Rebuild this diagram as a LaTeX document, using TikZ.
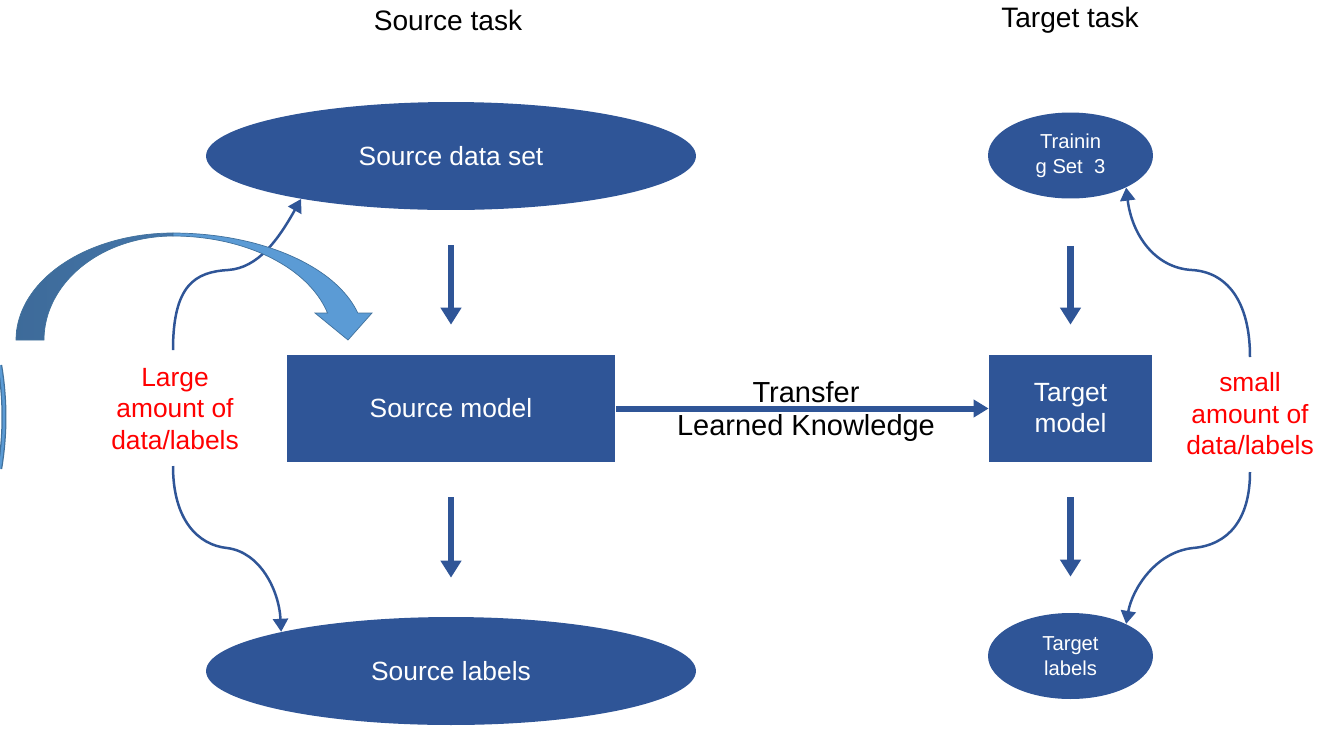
\documentclass[tikz,border=0pt]{standalone}
\usepackage{fontspec}
\setmainfont{Liberation Sans}
\usetikzlibrary{shapes.geometric,arrows.meta}
\definecolor{nodeblue}{RGB}{47,85,151}
\definecolor{bandlight}{RGB}{91,155,213}
\definecolor{banddark}{RGB}{68,118,170}
\definecolor{bandedge}{RGB}{65,113,156}
\definecolor{notered}{RGB}{255,0,0}
\begin{document}
\begin{tikzpicture}[x=0.02cm,y=-0.02cm,
  bigoval/.style={ellipse, fill=nodeblue, inner sep=0pt, minimum width=9.8cm, minimum height=2.16cm,
    text=white, font=\fontsize{15}{18}\selectfont},
  smalloval/.style={ellipse, fill=nodeblue, inner sep=0pt, minimum width=3.3cm, minimum height=1.72cm,
    text=white, align=center, font=\fontsize{11.5}{14.2}\selectfont},
  modelbox/.style={rectangle, fill=nodeblue, inner sep=0pt, minimum height=2.14cm,
    text=white, align=center, font=\fontsize{15}{17.6}\selectfont},
  heading/.style={font=\fontsize{16}{19}\selectfont},
  note/.style={text=notered, align=center, font=\fontsize{15}{17.9}\selectfont},
  flowarrow/.style={draw=nodeblue, line width=0.13cm, -{Triangle[width=0.4cm,length=0.34cm]}},
  transferarrow/.style={draw=nodeblue, line width=0.12cm, -{Triangle[width=0.34cm,length=0.3cm]}},
  curvearrow/.style={draw=nodeblue, line width=0.05cm, -{Triangle[width=0.3cm,length=0.26cm]}},
  transfertext/.style={font=\fontsize{16.5}{19}\selectfont}
]
\useasboundingbox (0,0) rectangle (1330,728);

% column headings
\node[heading] (srctask) at (448,20) {Source task};
\node[heading] (tgttask) at (1070,20) {Target task};

% source column
\node[bigoval] (sds) at (451,156) {Source data set};
\node[modelbox, minimum width=6.58cm] (sm) at (451,408.5) {Source model};
\node[bigoval] (sl) at (451,671) {Source labels};

% target column
\node[smalloval] (tr) at (1070.5,155.5) {Trainin\\g Set~~3};
\node[modelbox, minimum width=3.26cm] (tm) at (1070.5,408.5) {Target\\model};
\node[smalloval] (tl) at (1070.5,656) {Target\\labels};

% vertical flow
\draw[flowarrow, shorten <=0.7cm, shorten >=0.6cm] (sds) -- (sm);
\draw[flowarrow, shorten <=0.7cm, shorten >=0.78cm] (sm) -- (sl);
\draw[flowarrow, shorten <=0.94cm, shorten >=0.6cm] (tr) -- (tm);
\draw[flowarrow, shorten <=0.7cm, shorten >=0.72cm] (tm) -- (tl);

% knowledge transfer
\draw[transferarrow] (sm) -- (tm);
\node[transfertext] (trlabel) at (806,392) {Transfer};
\node[transfertext] (lklabel) at (806,428) {Learned Knowledge};

% side notes
\node[note] (bignote) at (175,409) {Large\\amount of\\data/labels};
\node[note] (smallnote) at (1250,414) {small\\amount of\\data/labels};

\coordinate (bn-top) at (173,350);
\coordinate (bn-bot) at (173,466);
\coordinate (sn-top) at (1250,357);
\coordinate (sn-bot) at (1250,472);

\draw[curvearrow] (bn-top) .. controls (173,285) and (195,272) .. (228,270)
  .. controls (258,268) and (278,240) .. (sds.196);
\draw[curvearrow] (bn-bot) .. controls (173,520) and (198,545) .. (227,548)
  .. controls (260,552) and (279,590) .. (sl.167);
\draw[curvearrow] (sn-top) .. controls (1250,300) and (1226,272) .. (1192,270)
  .. controls (1155,268) and (1132,235) .. (tr.330);
\draw[curvearrow] (sn-bot) .. controls (1250,520) and (1228,545) .. (1193,548)
  .. controls (1155,552) and (1132,590) .. (tl.30);

% curved block arrow (back half)
\path[left color=banddark!90!black, right color=banddark, draw=bandedge, line width=0.4pt]
  plot[variable=\t, domain=180:90, samples=40] ({173+157*cos(\t)},{340-107*sin(\t)})
  -- plot[variable=\t, domain=90:180, samples=40] ({173+129*cos(\t)},{340-104*sin(\t)})
  -- cycle;
% curved block arrow (front half with head)
\path[fill=bandlight, draw=bandedge, line width=0.4pt]
  plot[variable=\t, domain=90:14.6, samples=40] ({173+191*cos(\t)},{340-107*sin(\t)})
  -- (372,313) -- (348,340) -- (315,313) -- (328,313)
  -- plot[variable=\t, domain=15.05:90, samples=40] ({173+160*cos(\t)},{340-104*sin(\t)})
  -- cycle;

% edge of a further arrow at the left border
\draw[bandedge, line width=0.1cm]
  plot[variable=\t, domain=-9.5:9.5, samples=30] ({-310+314*cos(\t)},{417-314*sin(\t)});
\draw[bandlight, line width=0.05cm]
  plot[variable=\t, domain=-9.5:9.5, samples=30] ({-310+314*cos(\t)},{417-314*sin(\t)});
\end{tikzpicture}
\end{document}
